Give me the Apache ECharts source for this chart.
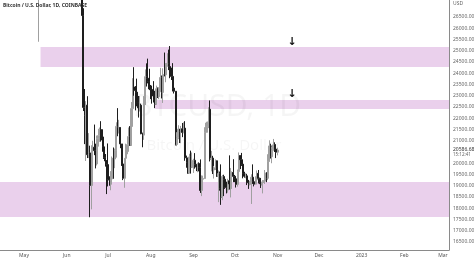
<!DOCTYPE html>
<html><head><meta charset="utf-8">
<script src="https://cdn.jsdelivr.net/npm/echarts@6/dist/echarts.min.js"></script>
<style>html,body{margin:0;padding:0;background:#fff}#c{width:474px;height:260px}</style>
</head><body><div id="c"></div>
<script>
// ---- data: BTC/USD daily, from 2022-05-01 ----
const START = '2022-05-01';
const OPEN = [
37630,38470,38530,37720,39690,36550,36010,35470,34060,30300,31020,28950,29050,29280,30090,31320,29860,30420,28700,30300,29180,29430,30290,29100,29650,29540,29200,28620,29030,29470,31720,
31790,29800,30460,29700,29860,29910,31370,31130,30200,30110,29090,28420,26570,22480,22130,22580,20380,20460,19010,20550,20710,20570,19970,21090,21230,21500,21030,20730,20260,20100,
19940,19290,19250,19300,20230,20190,20550,21640,21590,21590,20860,19970,19330,20220,20590,20830,21190,20790,22430,23390,23230,23160,22680,22460,22580,21310,21250,22950,23850,23780,23650,
23300,23280,22990,22820,22620,23310,22960,23180,23810,23150,23950,23930,24400,24440,24300,24100,23860,23340,23200,20830,21140,21520,21400,21530,21370,21560,20240,20040,19550,20280,19810,
20050,20130,19950,19830,19990,19800,18790,19290,19320,21370,21650,21830,22400,20180,20230,19700,19800,20110,19420,19540,18880,18480,19410,19290,18920,18810,19220,19080,19410,19590,
19420,19310,19060,19630,20340,20160,19960,19530,19420,19440,19130,19050,19150,19380,19180,19070,19260,19550,19330,19130,19040,19170,19200,19570,19330,20090,20770,20290,20600,20820,20630,
20490];
const HIGH = [
38670,39130,38650,40020,39830,36660,36130,35500,34250,32630,32040,30100,30990,30320,31450,31300,30760,30650,30520,30780,29620,30480,30640,29830,30200,29880,29380,29230,29570,32200,32370,
31970,30640,30680,29960,30150,31770,31550,31320,30700,30360,29440,28540,26890,23300,22760,22980,21340,20780,20800,21000,21720,20870,21230,21530,21590,21870,21510,21180,20410,20140,
20880,19420,19650,20300,20700,20650,21820,22450,21930,21600,20860,20050,20230,20870,21200,21590,21650,22720,23780,24270,23430,23760,22990,22990,22650,21360,22990,24170,24440,24650,24200,
23480,23450,23650,23220,23450,23370,23380,24240,23900,24220,24920,24450,24890,25050,25210,24250,24450,23600,23200,21380,21690,21520,21660,21790,21820,21870,20340,20150,20420,20560,20480,
20200,20450,19970,20020,20040,20170,19460,19450,21600,21800,21850,22490,22790,20550,20330,19880,20170,20110,19680,19630,19950,19480,19490,19310,19180,19310,20350,19790,19640,20180,
19480,19400,19720,20480,20360,20460,20060,19620,19560,19530,19260,19220,19510,19950,19220,19420,19680,19700,19360,19340,19250,19250,19700,19600,20400,21020,20870,20750,21080,20930,20840,
20690];
const LOW = [
37390,37990,37530,37670,35570,35260,34780,33710,30050,29730,27700,25400,28780,28700,29520,29090,29460,28650,28700,28700,28950,29240,28900,28680,29310,28020,28260,28550,28880,29300,31230,
29300,29580,29540,29480,29520,29880,29230,29860,29950,28860,28120,26560,22320,20850,20100,20230,20230,17600,17950,19640,20360,19770,19900,20740,20950,20960,20510,20190,19850,18630,
18970,19000,18800,19050,19310,19780,20250,21200,21320,20670,19880,19250,18910,19650,20400,20510,20770,20770,21620,23000,22350,22530,22030,22300,21290,20710,21040,22590,23410,23550,23250,
22850,22650,22700,22450,22600,22900,22850,23160,22880,22680,23860,23600,24290,24140,23780,23700,23190,23100,20790,20760,21070,20900,20890,21160,21330,20110,19800,19540,19550,19540,19800,
19570,19760,19650,19600,19640,18680,18540,19020,19300,21140,21360,21560,20080,19640,19520,19320,19700,19390,18270,18780,18150,18360,18540,18860,18660,18690,18830,18480,18860,19160,
19160,18920,18960,19520,19740,19880,19330,19360,19330,19030,18860,19020,18190,19080,18970,19060,19160,19100,19070,18900,18660,19120,19080,19160,19250,20060,20210,20000,20560,20500,20230,
20350];
const CLOSE = [
38470,38530,37720,39690,36550,36010,35470,34060,30300,31020,28950,29050,29280,30090,31320,29860,30420,28700,30300,29180,29430,30290,29100,29650,29540,29200,28620,29030,29470,31720,31790,
29800,30460,29700,29860,29910,31370,31130,30200,30110,29090,28420,26570,22480,22130,22580,20380,20460,19010,20550,20710,20570,19970,21090,21230,21500,21030,20730,20260,20100,19940,
19290,19250,19300,20230,20190,20550,21640,21590,21590,20860,19970,19330,20220,20590,20830,21190,20790,22430,23390,23230,23160,22680,22460,22580,21310,21250,22950,23850,23780,23650,23300,
23280,22990,22820,22620,23310,22960,23180,23810,23150,23950,23930,24400,24440,24300,24100,23860,23340,23200,20830,21140,21520,21400,21530,21370,21560,20240,20040,19550,20280,19810,20050,
20130,19950,19830,19990,19800,18790,19290,19320,21370,21650,21830,22400,20180,20230,19700,19800,20110,19420,19540,18880,18480,19410,19290,18920,18810,19220,19080,19410,19590,19420,
19310,19060,19630,20340,20160,19960,19530,19420,19440,19130,19050,19150,19380,19180,19070,19260,19550,19330,19130,19040,19170,19200,19570,19330,20090,20770,20290,20600,20820,20630,20490,
20586.68];

// horizontal zones [startDate, low, high]
const ZONE_STARTS = ['2022-05-13', '2022-08-04', 'axismin'];
const ZONE_LOWS  = [24280, 22410, 17610];
const ZONE_HIGHS = [25170, 22810, 19165];

// arrows [date, price]
const ARROW_DATES  = ['2022-11-11T12:00:00Z', '2022-11-11T12:00:00Z'];
const ARROW_PRICES = [25390, 23080];

// tick labels
const X_TICK_DATES  = ['2022-05-01','2022-06-01','2022-07-01','2022-08-01','2022-09-01','2022-10-01','2022-11-01','2022-12-01','2023-01-01','2023-02-01','2023-03-01'];
const X_TICK_LABELS = ['May','Jun','Jul','Aug','Sep','Oct','Nov','Dec','2023','Feb','Mar'];
const Y_TICKS = [16500,17000,17500,18000,18500,19000,19500,20000,21000,21500,22000,22500,23000,23500,24000,24500,25000,25500,26000,26500];

const TITLE = 'Bitcoin / U.S. Dollar, 1D, COINBASE';
const WATERMARK1 = 'BTCUSD, 1D';
const WATERMARK2 = 'Bitcoin / U.S. Dollar';
const COUNTDOWN = '15:12:41';

// ---- build (x axis measured in days since START) ----
const DAY = 86400000;
const t0 = Date.parse(START + 'T00:00:00Z');
const dayOf = s => (Date.parse(s.length === 10 ? s + 'T00:00:00Z' : s) - t0) / DAY;
const X_MIN = -17.42, X_MAX = 308.42;
const Y_MIN = 16144, Y_MAX = 27256;

const candles = OPEN.map((o, i) => [i, o, CLOSE[i], LOW[i], HIGH[i]]);
const tickVals = X_TICK_DATES.map(dayOf);
const labelFor = v => {
  const i = tickVals.findIndex(t => Math.abs(t - v) < 0.01);
  return i >= 0 ? X_TICK_LABELS[i] : '';
};

const areas = ZONE_STARTS.map((s, i) => [
  { xAxis: s === 'axismin' ? X_MIN : dayOf(s), yAxis: ZONE_LOWS[i] },
  { xAxis: X_MAX, yAxis: ZONE_HIGHS[i] }
]);

const chart = echarts.init(document.getElementById('c'), null, { renderer: 'canvas' });
const FONT = 'Noto Sans, sans-serif';
chart.setOption({
  animation: false,
  backgroundColor: '#ffffff',
  grid: { left: 0, right: 25, top: 0, bottom: 10, containLabel: false, outerBoundsMode: 'none' },
  xAxis: {
    type: 'value', min: X_MIN, max: X_MAX,
    axisLine: { show: true, onZero: false, lineStyle: { color: '#8a8a8a', width: 1 } },
    axisTick: { show: false },
    splitLine: { show: false },
    axisLabel: {
      customValues: tickVals, fontSize: 5, color: '#555', margin: 3, fontFamily: FONT,
      formatter: v => labelFor(v)
    }
  },
  yAxis: {
    type: 'value', position: 'right', min: Y_MIN, max: Y_MAX, scale: true,
    axisLine: { show: true, onZero: false, lineStyle: { color: '#8a8a8a', width: 1 } },
    axisTick: { show: false },
    splitLine: { show: false },
    axisLabel: {
      customValues: Y_TICKS, fontSize: 5, color: '#666', margin: 4, fontFamily: FONT,
      formatter: v => v.toFixed(2)
    }
  },
  series: [{
    type: 'candlestick',
    data: candles,
    barWidth: 1.5,
    clip: true,
    itemStyle: { color: '#a8a8a8', color0: '#1e1e1e', borderColor: '#a0a0a0', borderColor0: '#1e1e1e', borderWidth: 1 },
    markArea: {
      silent: true,
      itemStyle: { color: '#ead0ec', opacity: 1 },
      data: areas
    },
    z: 3
  }]
});

// overlay texts positioned through the chart's scales
const lastClose = CLOSE[CLOSE.length - 1];
const pLast = chart.convertToPixel({ gridIndex: 0 }, [X_MAX, lastClose]);
const arrows = ARROW_DATES.map((d, i) => {
  const p = chart.convertToPixel({ gridIndex: 0 }, [dayOf(d), ARROW_PRICES[i]]);
  return { type: 'text', x: p[0], y: p[1], z: 10,
    style: { text: '↓', fontSize: 11, fontWeight: 'bold', fill: '#111', align: 'center', verticalAlign: 'middle', fontFamily: 'DejaVu Sans' } };
});
chart.setOption({
  graphic: [
    { type: 'text', x: 217, y: 107, z: 1, silent: true,
      style: { text: WATERMARK1, fontSize: 30, fill: 'rgba(0,0,0,0.04)', align: 'center', verticalAlign: 'middle', fontFamily: FONT } },
    { type: 'text', x: 214, y: 146, z: 1, silent: true,
      style: { text: WATERMARK2, fontSize: 15, fill: 'rgba(0,0,0,0.04)', align: 'center', verticalAlign: 'middle', fontFamily: FONT } },
    { type: 'text', x: 3, y: 6, z: 10,
      style: { text: TITLE, fontSize: 5, fontWeight: 'bold', fill: '#333', verticalAlign: 'middle', fontFamily: FONT } },
    { type: 'text', x: pLast[0] + 4, y: 4, z: 10,
      style: { text: 'USD', fontSize: 5, fill: '#666', verticalAlign: 'middle', fontFamily: FONT } },
    { type: 'text', x: pLast[0] + 4, y: pLast[1], z: 10,
      style: { text: lastClose.toFixed(2), fontSize: 5, fill: '#333', verticalAlign: 'middle', fontFamily: FONT } },
    { type: 'text', x: pLast[0] + 4, y: pLast[1] + 5, z: 10,
      style: { text: COUNTDOWN, fontSize: 4.5, fill: '#666', verticalAlign: 'middle', fontFamily: FONT } }
  ].concat(arrows)
});
</script></body></html>
